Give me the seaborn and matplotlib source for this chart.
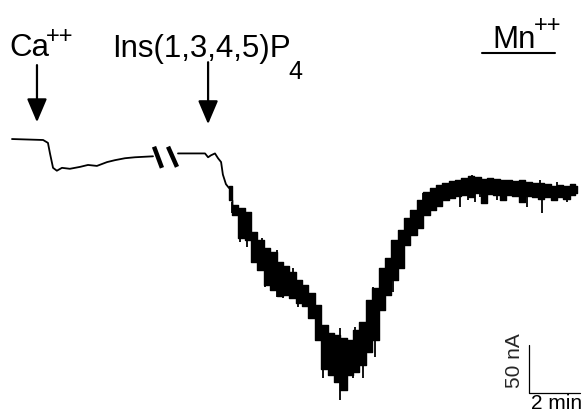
import numpy as np
import pandas as pd
import seaborn as sns
import matplotlib.pyplot as plt

# slow part of the record (time in min, current in nA), two segments around the break
step_t = [0.00, 1.22, 1.41, 1.49, 1.61, 1.76, 1.96, 2.27, 2.67, 2.98, 3.33, 3.73, 4.04, 4.43, 4.82, 5.53,
          6.51, 7.57, 7.69, 7.80, 7.96, 8.08, 8.20, 8.27, 8.39, 8.51]
step_i = [1, 0, -3, -14, -29, -32, -29, -30, -28, -26, -27, -23, -21, -19, -18, -17,
          -14, -14, -18, -16, -14, -19, -23, -36, -46, -50]
step_seg = [0] * 16 + [1] * 10

# noisy response after Ins(1,3,4,5)P4: upper and lower edge of the trace
band_t = [8.50, 8.75, 9.00, 9.25, 9.50, 9.75, 10.00, 10.25, 10.50, 10.75, 11.00, 11.25, 11.50, 11.75,
          12.00, 12.25, 12.50, 12.75, 13.00, 13.25, 13.50, 13.75, 14.00, 14.25, 14.50, 14.75, 15.00,
          15.25, 15.50, 15.75, 16.00, 16.25, 16.50, 16.75, 17.00, 17.25, 17.50, 17.75, 18.00, 18.25,
          18.50, 18.75, 19.00, 19.25, 19.50, 19.75, 20.00, 20.25, 20.50, 20.75, 21.00, 21.25, 21.50,
          21.75, 22.00, 22.15]
band_top = [-48, -68, -71, -75, -96, -104, -113, -117, -127, -131, -138, -146, -151, -159,
            -172, -193, -201, -203, -206, -208, -198, -190, -167, -154, -133, -123, -104,
            -94, -81, -73, -63, -54, -50, -47, -45, -43, -42, -40, -38, -39,
            -41, -40, -41, -42, -42, -43, -42, -44, -45, -45, -46, -48, -47,
            -48, -46, -48]
band_bottom = [-63, -78, -102, -104, -127, -135, -151, -156, -163, -161, -165, -170, -173, -185,
               -208, -238, -245, -252, -260, -245, -242, -234, -221, -208, -177, -161, -146,
               -133, -109, -99, -92, -78, -73, -69, -63, -60, -58, -57, -59, -55,
               -66, -56, -57, -63, -57, -58, -65, -58, -59, -61, -59, -63, -59,
               -61, -57, -55]

# single spikes sticking out of the trace (min, nA at the tip)
spike_down_t = [8.63, 8.94, 9.22, 9.92, 10.39, 10.63, 11.22, 11.49, 11.80, 12.20, 12.59, 12.86,
                13.14, 13.37, 13.76, 14.24, 14.94, 15.73, 15.92, 16.39, 17.57, 17.88, 18.16,
                18.35, 19.02, 20.20, 20.78, 21.76]
spike_down_i = [-76, -106, -111, -153, -164, -165, -174, -174, -175, -248, -243, -271,
                -257, -248, -248, -226, -158, -94, -86, -73, -70, -63, -65,
                -59, -63, -70, -76, -65]
spike_up_t = [9.14, 9.80, 10.39, 11.02, 12.86, 13.45, 13.76, 14.16, 14.51, 14.94, 16.12, 16.78,
              17.45, 18.04, 18.82, 20.71, 21.37]
spike_up_i = [-73, -102, -115, -133, -196, -195, -190, -153, -146, -104, -55, -47,
              -44, -36, -40, -42, -44]

# break marks on the record
break_t = [[5.57, 5.88], [6.12, 6.47]]
break_i = [[-7, -29], [-7, -28]]

ca_t, ins_t = 0.98, 7.69
scale_min, scale_na = 2, 50

sns.set_theme(style="white")
plt.rcParams["font.family"] = ["Liberation Sans", "DejaVu Sans"]

fig = plt.figure(figsize=(5.86, 4.12), dpi=100)
ax = fig.add_axes([0, 0, 1, 1])
ax.set_xlim(-0.47, 22.51)
ax.set_ylim(-283.3, 145.8)
ax.axis("off")

df = pd.DataFrame({"t": step_t, "i": step_i, "seg": step_seg})
sns.lineplot(data=df, x="t", y="i", units="seg", estimator=None, sort=False,
             color="black", lw=1.3, ax=ax, legend=False)

ax.fill_between(band_t, band_bottom, band_top, step="mid", color="black", lw=1.0, edgecolor="black")
mid = (np.array(band_top) + np.array(band_bottom)) / 2
ax.vlines(spike_down_t, np.interp(spike_down_t, band_t, mid), spike_down_i, color="black", lw=1.3)
ax.vlines(spike_up_t, np.interp(spike_up_t, band_t, mid), spike_up_i, color="black", lw=1.3)

for bt, bi in zip(break_t, break_i):
    ax.plot(bt, bi, color="black", lw=3.2, solid_capstyle="butt")

arrow = dict(arrowstyle="-|>,head_width=0.34,head_length=0.8", color="black",
             lw=1.6, mutation_scale=18, shrinkA=0, shrinkB=0)
ax.annotate("", xy=(ca_t, 18.5), xytext=(ca_t, 78), arrowprops=arrow)
ax.annotate("", xy=(ins_t, 16.5), xytext=(ins_t, 81), arrowprops=arrow)


def px(x, y):
    return (x / 586, 1 - y / 412)


kw = dict(transform=ax.transAxes, color="black", va="baseline", ha="left")
ax.text(*px(9, 56), "Ca", fontsize=22.5, **kw)
ax.text(*px(46, 43), "++", fontsize=17, **kw)
ax.text(*px(112, 57), "Ins(1,3,4,5)P", fontsize=22.5, **kw)
ax.text(*px(288, 79), "4", fontsize=18, **kw)
ax.text(*px(492, 48), "Mn", fontsize=22.5, **kw)
ax.text(*px(534, 32), "++", fontsize=17, **kw)
ax.plot([482 / 586, 555 / 586], [1 - 53 / 412] * 2, transform=ax.transAxes, color="black", lw=1.5)

# scale bar
t0, i0 = 20.27, -263.5
ax.plot([t0, t0, t0 + scale_min], [i0 + scale_na, i0, i0], color="black", lw=0.9)
ax.text(*px(515, 361), f"{scale_na} nA", fontsize=15, rotation=90,
        transform=ax.transAxes, ha="center", va="center")
ax.text(*px(531, 409), f"{scale_min} min", fontsize=15, **kw)

fig.savefig("out.png", dpi=100)
